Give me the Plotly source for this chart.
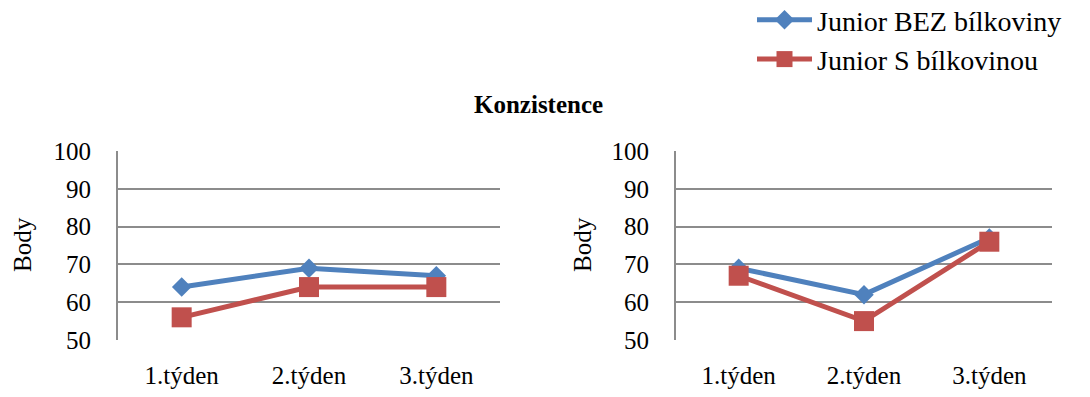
import plotly.graph_objects as go

# Consistency scores (body) per week, two panels
weeks = ["1.týden", "2.týden", "3.týden"]
bez_left = [64, 69, 67]
s_left = [56, 64, 64]
bez_right = [69, 62, 77]
s_right = [67, 55, 76]

series_names = ["Junior BEZ bílkoviny", "Junior S bílkovinou"]
title_text = "Konzistence"
y_title = "Body"
y_ticks = [50, 60, 70, 80, 90, 100]

BLUE = "#4F81BD"
RED = "#C0504D"
GRID = "#8C8C8C"
FONT = "'Liberation Serif', 'Times New Roman', serif"

W, H = 1090, 397

fig = go.Figure()

def add_pair(bez, s, xa, ya, show):
    fig.add_trace(go.Scatter(
        x=weeks, y=bez, name=series_names[0], mode="lines+markers",
        line=dict(color=BLUE, width=5),
        marker=dict(symbol="diamond", size=15, color=BLUE),
        xaxis=xa, yaxis=ya, showlegend=show, legendrank=1))
    fig.add_trace(go.Scatter(
        x=weeks, y=s, name=series_names[1], mode="lines+markers",
        line=dict(color=RED, width=5),
        marker=dict(symbol="square", size=20, color=RED),
        xaxis=xa, yaxis=ya, showlegend=show, legendrank=2))

add_pair(bez_left, s_left, "x", "y", True)
add_pair(bez_right, s_right, "x2", "y2", False)

y_dom = [(H - 340) / H, (H - 151) / H]

xcommon = dict(
    type="category", range=[-0.5, 2.5], showgrid=False, zeroline=False,
    showline=False, ticks="", ticklabelstandoff=18,
    tickfont=dict(family=FONT, size=25, color="#000000"),
)
ycommon = dict(
    range=[50, 100], tickvals=y_ticks, showgrid=True, gridcolor=GRID,
    gridwidth=2, zeroline=False, showline=True, linecolor=GRID, linewidth=2,
    ticks="", ticklabelstandoff=20,
    tickfont=dict(family=FONT, size=25, color="#000000"),
)

fig.update_layout(
    width=W, height=H,
    margin=dict(l=0, r=0, t=0, b=0, autoexpand=False),
    paper_bgcolor="white", plot_bgcolor="white",
    xaxis=dict(domain=[118 / W, 500 / W], anchor="y", **xcommon),
    yaxis=dict(domain=y_dom, anchor="x", **ycommon),
    xaxis2=dict(domain=[676 / W, 1052 / W], anchor="y2", **xcommon),
    yaxis2=dict(domain=y_dom, anchor="x2", **ycommon),
    legend=dict(
        x=752 / W, y=1.0 + 5 / H, xanchor="left", yanchor="top",
        font=dict(family=FONT, size=28, color="#000000"),
        itemwidth=55, tracegroupgap=0, bgcolor="rgba(0,0,0,0)",
    ),
    showlegend=True,
    annotations=[
        dict(text="<b>" + title_text + "</b>", x=538 / W, y=(H - 105) / H,
             xref="paper", yref="paper", xanchor="center", yanchor="middle",
             showarrow=False,
             font=dict(family=FONT, size=25, color="#000000")),
        dict(text=y_title, x=22 / W, y=(H - 245) / H, xref="paper",
             yref="paper", xanchor="center", yanchor="middle",
             showarrow=False, textangle=-90,
             font=dict(family=FONT, size=25, color="#000000")),
        dict(text=y_title, x=582 / W, y=(H - 245) / H, xref="paper",
             yref="paper", xanchor="center", yanchor="middle",
             showarrow=False, textangle=-90,
             font=dict(family=FONT, size=25, color="#000000")),
    ],
)

fig.write_html("out.html")
